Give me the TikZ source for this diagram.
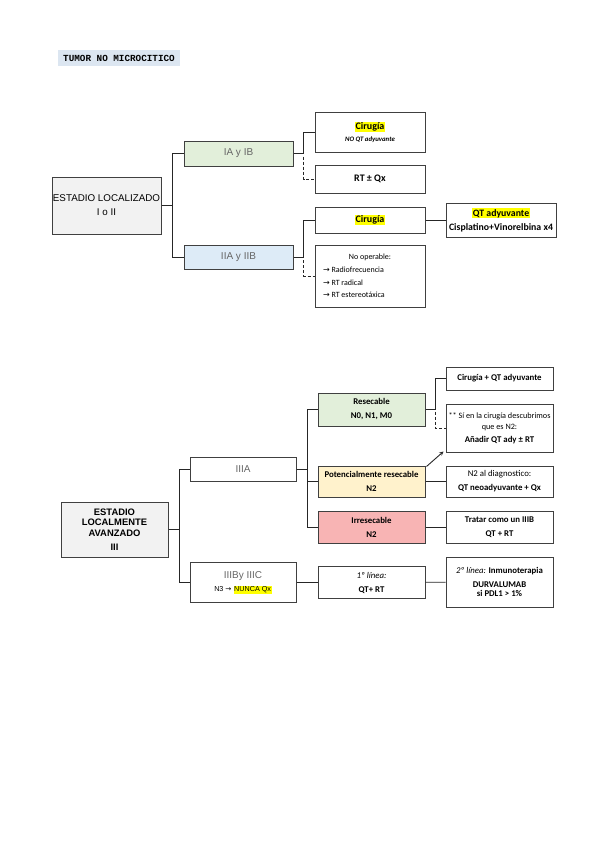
\documentclass[tikz,border=0pt]{standalone}
\usepackage{fontspec}
\setmainfont{Carlito}
\newfontfamily\arialf{Liberation Sans}
\newfontfamily\monof{Liberation Mono}
\newfontfamily\flechaf{DejaVu Sans}
\definecolor{gris}{HTML}{F2F2F2}
\definecolor{verde}{HTML}{E2EFDA}
\definecolor{azul}{HTML}{DDEBF7}
\definecolor{amarillo}{HTML}{FFF2CC}
\definecolor{rosa}{HTML}{F8B4B4}
\definecolor{titulo}{HTML}{DCE6F1}
\definecolor{resalta}{HTML}{FFFF00}
\newcommand{\marca}[1]{{\setlength{\fboxsep}{0.7pt}\colorbox{resalta}{#1}}}
\newcommand{\flecha}{{\flechaf →}}

\begin{document}
\begin{tikzpicture}[x=1pt,y=-1pt,>=stealth,
  caja/.style={draw=black!75,line width=1pt,align=center,inner sep=0pt},
  tam/.style 2 args={minimum width=#1,minimum height=#2},
  link/.style={black!85,line width=0.9pt},
  guion/.style={dash pattern=on 3pt off 2pt}]
  \useasboundingbox (0,0) rectangle (599,848);
  \node[fill=titulo,tam={122}{16},inner sep=0pt,font=\monof\bfseries\fontsize{9.3}{10}\selectfont] (titulo) at (119,58) {TUMOR NO MICROCITICO};

  % estadio localizado
  \node[caja,fill=gris,tam={109}{57},font=\arialf\fontsize{9.8}{14}\selectfont] (loc) at (106.5,205.5) {ESTADIO LOCALIZADO\\I o II};
  \node[caja,fill=verde,tam={109}{25},text=black!60,font=\arialf\fontsize{10}{12}\selectfont] (iaib) at (238.5,153.5) {IA y IB};
  \node[caja,fill=azul,tam={109}{24},text=black!60,font=\arialf\fontsize{10}{12}\selectfont] (iiaiib) at (238.5,257) {IIA y IIB};
  \node[caja,tam={110}{39},font=\bfseries\fontsize{10}{11}\selectfont] (cir1) at (370,132.5) {\marca{Cirugía}\\[1pt]{\itshape\fontsize{6.8}{8}\selectfont NO QT adyuvante}};
  \node[caja,tam={110}{28},font=\bfseries\fontsize{10}{11}\selectfont] (rtqx) at (370,179) {RT ± Qx};
  \node[caja,tam={110}{26},font=\bfseries\fontsize{10}{11}\selectfont] (cir2) at (370,220) {\marca{Cirugía}};
  \node[caja,tam={110}{62},align=left,font=\fontsize{8}{12.5}\selectfont] (noop) at (370,276) {\makebox[94pt]{No operable:}\\\flecha{} Radiofrecuencia\\\flecha{} RT radical\\\flecha{} RT estereotáxica};
  \node[caja,tam={110}{34},font=\bfseries\fontsize{9.8}{14}\selectfont] (qtadj) at (501,220) {\marca{QT adyuvante}\\Cisplatino+Vinorelbina x4};

  \draw[link] (loc.east) -- ++(11,0) |- (iaib.west);
  \draw[link] (loc.east) -- ++(11,0) |- (iiaiib.west);
  \draw[link] (iaib.east) -- ++(10,0) |- (cir1.west);
  \draw[link,guion] ([xshift=10pt,yshift=-3pt]iaib.east) |- (rtqx.west);
  \draw[link] (iiaiib.east) -- ++(10,0) |- (cir2.west);
  \draw[link,guion] ([xshift=10pt,yshift=-3pt]iiaiib.east) |- (noop.west);
  \draw[link] (cir2) -- (qtadj);

  % estadio localmente avanzado
  \node[caja,fill=gris,tam={107}{55},font=\arialf\bfseries\fontsize{9.4}{10.7}\selectfont] (avz) at (114.5,529.5) {ESTADIO\\LOCALMENTE\\AVANZADO\\[3pt]III};
  \node[caja,tam={106}{24},text=black!60,font=\arialf\fontsize{10}{12}\selectfont] (iiia) at (243,469) {IIIA};
  \node[caja,tam={106}{40},text=black!60,font=\arialf\fontsize{10}{12}\selectfont] (iiib) at (243,582.5) {IIIBy IIIC\\[1pt]{\color{black}\fontsize{7.2}{8}\selectfont N3 \flecha{} \marca{NUNCA Qx}}};
  \node[caja,fill=verde,tam={107}{33},font=\bfseries\fontsize{8.8}{14}\selectfont] (resec) at (371.5,409.5) {Resecable\\N0, N1, M0};
  \node[caja,fill=amarillo,tam={107}{31},font=\bfseries\fontsize{8.8}{14}\selectfont] (potres) at (371.5,481.5) {Potencialmente resecable\\N2};
  \node[caja,fill=rosa,tam={107}{32},font=\bfseries\fontsize{8.8}{14}\selectfont] (irres) at (371.5,527) {Irresecable\\N2};
  \node[caja,tam={107}{32},font=\bfseries\fontsize{8.8}{14}\selectfont] (lin1) at (371.5,582.5) {{\mdseries\itshape 1º línea:}\\QT+ RT};
  \node[caja,tam={107}{23},font=\bfseries\fontsize{8.8}{10}\selectfont] (cirqt) at (499.5,378.5) {Cirugía + QT adyuvante};
  \node[caja,tam={107}{48},font=\fontsize{8.2}{11}\selectfont] (sicir) at (499.5,428) {** Sí en la cirugía descubrimos\\que es N2:\\[2pt]{\bfseries\fontsize{8.8}{10}\selectfont Añadir QT ady ± RT}};
  \node[caja,tam={107}{31},font=\bfseries\fontsize{8.8}{14}\selectfont] (n2diag) at (499.5,481.5) {{\mdseries N2 al diagnostico:}\\QT neoadyuvante + Qx};
  \node[caja,tam={107}{32},font=\bfseries\fontsize{8.8}{14}\selectfont] (tratar) at (499.5,527) {Tratar como un IIIB\\QT + RT};
  \node[caja,tam={107}{50},font=\bfseries\fontsize{8.8}{9}\selectfont] (lin2) at (499.5,582) {{\mdseries\itshape 2º línea:} Inmunoterapia\\[5pt]DURVALUMAB\\si PDL1 > 1\%};

  \draw[link] (avz.east) -- ++(11,0) |- (iiia.west);
  \draw[link] (avz.east) -- ++(11,0) |- (iiib.west);
  \draw[link] (iiia.east) -- ++(11,0) |- (resec.west);
  \draw[link] (iiia.east) -- ++(11,0) |- (potres.west);
  \draw[link] (iiia.east) -- ++(11,0) |- (irres.west);
  \draw[link] (resec.east) -- ++(10,0) |- (cirqt.west);
  \draw[link,guion] ([xshift=10pt,yshift=-2pt]resec.east) |- (sicir.west);
  \draw[link,->] ([xshift=1pt,yshift=-1pt]potres.north east) -- ([xshift=-2pt,yshift=1pt]sicir.south west);
  \draw[link] (potres) -- (n2diag);
  \draw[link] (irres) -- (tratar);
  \draw[link] (iiib) -- (lin1);
  \draw[link] (lin1) -- (lin2);
\end{tikzpicture}
\end{document}
